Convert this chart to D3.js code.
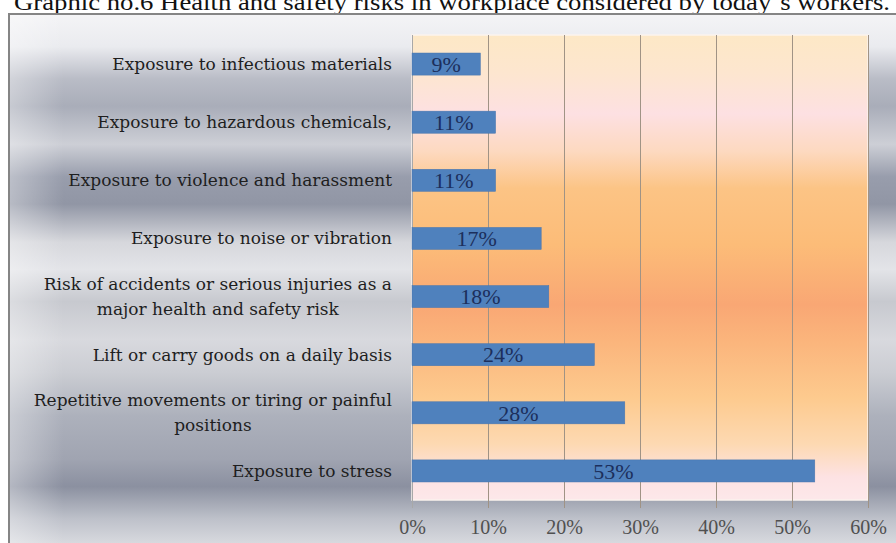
<!DOCTYPE html>
<html>
<head>
<meta charset="utf-8">
<script src="https://cdn.jsdelivr.net/npm/d3@7"></script>
<style>
  html, body { margin: 0; padding: 0; background: #ffffff; }
  svg { display: block; }
</style>
</head>
<body>
<svg id="chart" width="896" height="543"></svg>
<script>
// ---- data ----
const title = "Graphic no.6 Health and safety risks in workplace considered by today`s workers.";
const categories = [
  ["Exposure to infectious materials"],
  ["Exposure to hazardous chemicals,"],
  ["Exposure to violence and harassment"],
  ["Exposure to noise or vibration"],
  ["Risk of accidents or serious injuries as a", "major health and safety risk"],
  ["Lift or carry goods on a daily basis"],
  ["Repetitive movements or tiring or painful", "positions"],
  ["Exposure to stress"]
];
const values = [9, 11, 11, 17, 18, 24, 28, 53];
const tickValues = [0, 10, 20, 30, 40, 50, 60];

// ---- layout ----
const W = 896, H = 543;
const plot = { left: 412, right: 868, top: 35, bottom: 500 };

const svg = d3.select("#chart");
const defs = svg.append("defs");

// metallic gray background gradient
const bg = defs.append("linearGradient").attr("id", "bgGrad")
  .attr("x1", 0).attr("y1", 0).attr("x2", 0).attr("y2", 1);
[
  [0.00, "#f4f4f6"], [0.06, "#eaebef"], [0.12, "#b9bcc6"], [0.17, "#a9adb9"],
  [0.24, "#cdcfd6"], [0.30, "#989dac"], [0.35, "#9196a5"], [0.42, "#d6d7dc"],
  [0.47, "#e3e4e8"], [0.53, "#c7c9cf"], [0.60, "#d8d9de"], [0.66, "#cbcdd3"],
  [0.74, "#adb1bc"], [0.82, "#a0a4b1"], [0.87, "#8b90a0"], [0.93, "#bec1ca"],
  [1.00, "#e6e7ea"]
].forEach(([o, c]) => bg.append("stop").attr("offset", o).attr("stop-color", c));

// horizontal shading (lighter near left edge)
const bgH = defs.append("linearGradient").attr("id", "bgH")
  .attr("x1", 0).attr("y1", 0).attr("x2", 1).attr("y2", 0);
bgH.append("stop").attr("offset", 0).attr("stop-color", "#ffffff").attr("stop-opacity", 0.35);
bgH.append("stop").attr("offset", 0.06).attr("stop-color", "#ffffff").attr("stop-opacity", 0.0);
bgH.append("stop").attr("offset", 1).attr("stop-color", "#ffffff").attr("stop-opacity", 0.0);

// plot area gradient
const pg = defs.append("linearGradient").attr("id", "plotGrad")
  .attr("x1", 0).attr("y1", 0).attr("x2", 0).attr("y2", 1);
[
  [0.00, "#fde8c6"], [0.08, "#fde6cf"], [0.17, "#fde0e2"], [0.25, "#fdd9c0"],
  [0.33, "#fcc485"], [0.45, "#fcbc78"], [0.58, "#f9a774"], [0.66, "#fbb57c"],
  [0.78, "#fdca8e"], [0.88, "#fdd9b2"], [0.95, "#fde2e3"], [1.00, "#fde8ea"]
].forEach(([o, c]) => pg.append("stop").attr("offset", o).attr("stop-color", c));

// title
svg.append("text")
  .attr("x", 14).attr("y", 10)
  .attr("font-family", "'Liberation Serif', 'Times New Roman', serif")
  .attr("font-size", 24)
  .attr("textLength", 876)
  .attr("lengthAdjust", "spacingAndGlyphs")
  .attr("fill", "#111")
  .text(title);

// outer frame
svg.append("rect")
  .attr("x", 9).attr("y", 14).attr("width", W + 10).attr("height", H)
  .attr("fill", "url(#bgGrad)").attr("stroke", "#858585").attr("stroke-width", 2);
svg.append("rect")
  .attr("x", 10).attr("y", 15).attr("width", W).attr("height", H)
  .attr("fill", "url(#bgH)");

// scales
const x = d3.scaleLinear().domain([0, 60]).range([plot.left, plot.right]);
const y = d3.scaleBand().domain(d3.range(categories.length))
  .range([plot.top, plot.bottom]).paddingInner(0.62).paddingOuter(0.31);

// plot area
svg.append("rect")
  .attr("x", plot.left).attr("y", plot.top)
  .attr("width", plot.right - plot.left).attr("height", plot.bottom - plot.top)
  .attr("fill", "url(#plotGrad)")
  .attr("stroke", "#fbf3ee").attr("stroke-width", 1.5);

// grid lines
svg.append("g").selectAll("line").data(tickValues.slice(1)).join("line")
  .attr("x1", d => x(d) + 0.5).attr("x2", d => x(d) + 0.5)
  .attr("y1", plot.top).attr("y2", plot.bottom + 8)
  .attr("stroke", "#a09385").attr("stroke-width", 1);

// left axis line
svg.append("line")
  .attr("x1", plot.left + 0.5).attr("x2", plot.left + 0.5)
  .attr("y1", plot.top).attr("y2", plot.bottom + 8)
  .attr("stroke", "#a8a8a8").attr("stroke-width", 1);

// x axis
const xAxis = svg.append("g")
  .attr("transform", `translate(0,${plot.bottom})`)
  .call(d3.axisBottom(x).tickValues(tickValues).tickFormat(d => d + "%").tickSize(0).tickPadding(20));
xAxis.select(".domain").remove();
xAxis.selectAll("text")
  .attr("font-family", "'Liberation Serif', 'Times New Roman', serif")
  .attr("font-size", 20)
  .attr("fill", "#505050");

// bars
svg.append("g").selectAll("rect").data(values).join("rect")
  .attr("x", x(0))
  .attr("y", (d, i) => y(i))
  .attr("width", d => x(d) - x(0))
  .attr("height", y.bandwidth())
  .attr("fill", "#4f81bd")
  .attr("stroke", "#4a76ad").attr("stroke-width", 0.5);

// bar labels
svg.append("g").selectAll("text").data(values).join("text")
  .attr("x", d => (x(0) + x(d)) / 2)
  .attr("y", (d, i) => y(i) + y.bandwidth() / 2)
  .attr("dy", "0.35em")
  .attr("text-anchor", "middle")
  .attr("font-family", "'Liberation Serif', 'Times New Roman', serif")
  .attr("font-size", 22)
  .attr("fill", "#1c2f5c")
  .text(d => d + "%");

// category labels (multi-line centered, block right-aligned)
const labelRight = 392;
const lineH = 25;
const labG = svg.append("g")
  .attr("font-family", "'DejaVu Serif', serif")
  .attr("font-size", 17)
  .attr("fill", "#1e1e1e");
categories.forEach((lines, i) => {
  const cy = y(i) + y.bandwidth() / 2;
  const t = labG.append("text");
  const n = lines.length;
  lines.forEach((ln, k) => {
    t.append("tspan").attr("y", cy + (k - (n - 1) / 2) * lineH).attr("dy", "0.35em").text(ln);
  });
  const widths = [];
  t.selectAll("tspan").each(function () { widths.push(this.getComputedTextLength()); });
  const maxW = d3.max(widths);
  t.selectAll("tspan").each(function () {
    d3.select(this).attr("x", labelRight - maxW / 2).attr("text-anchor", "middle");
  });
});
</script>
</body>
</html>
